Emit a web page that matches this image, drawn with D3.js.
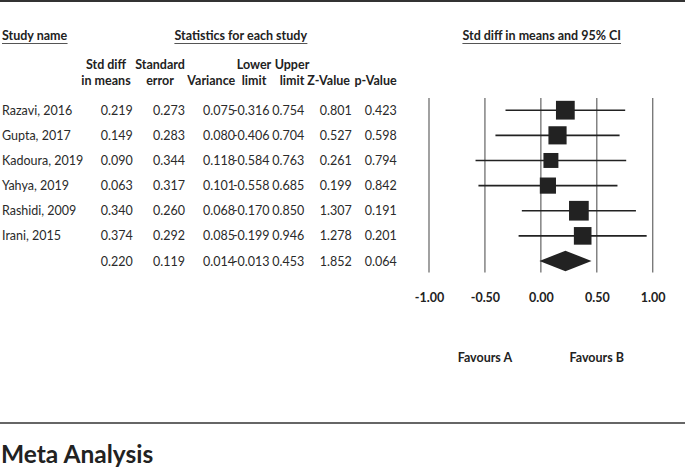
<!DOCTYPE html>
<html>
<head>
<meta charset="utf-8">
<script src="https://cdn.jsdelivr.net/npm/d3@7"></script>
<style>
  body { margin: 0; background: #fff; }
  svg { display: block; font-family: Lato, "Open Sans", sans-serif; }
</style>
</head>
<body>
<div id="chart"></div>
<script>
// study rows
const studies = ["Razavi, 2016", "Gupta, 2017", "Kadoura, 2019", "Yahya, 2019", "Rashidi, 2009", "Irani, 2015"];
const stdDiff = [0.219, 0.149, 0.090, 0.063, 0.340, 0.374];
const stdErr = [0.273, 0.283, 0.344, 0.317, 0.260, 0.292];
const variance = [0.075, 0.080, 0.118, 0.101, 0.068, 0.085];
const lower = [-0.316, -0.406, -0.584, -0.558, -0.170, -0.199];
const upper = [0.754, 0.704, 0.763, 0.685, 0.850, 0.946];
const zValue = [0.801, 0.527, 0.261, 0.199, 1.307, 1.278];
const pValue = [0.423, 0.598, 0.794, 0.842, 0.191, 0.201];

// pooled row
const summary = { stdDiff: 0.220, stdErr: 0.119, variance: 0.014, lower: -0.013, upper: 0.453, zValue: 1.852, pValue: 0.064 };

const axisTicks = [-1, -0.5, 0, 0.5, 1];
const favourLabels = ["Favours A", "Favours B"];

const W = 685, H = 470;
const svg = d3.select("#chart").append("svg")
    .attr("width", W)
    .attr("height", H);

const f3 = d3.format(".3f");
const fmt = d => f3(d).replace("−", "-");
const f2 = d => d3.format(".2f")(d).replace("−", "-");

// scales
const x = d3.scaleLinear().domain([-1, 1]).range([429, 652.7]);
const y = d3.scaleLinear().domain([0, studies.length]).range([110.2, 261]);
const weights = variance.map(v => 1 / v);
const size = d3.scaleSqrt().domain([0, d3.max(weights)]).range([0, 19.7]);

// frame lines
svg.append("line").attr("x1", 0).attr("x2", W).attr("y1", 1).attr("y2", 1)
    .attr("stroke", "#333").attr("stroke-width", 2);
svg.append("line").attr("x1", 0).attr("x2", W).attr("y1", 423).attr("y2", 423)
    .attr("stroke", "#333").attr("stroke-width", 1.6);

// section headers (underlined)
function header(txt, xPos, anchor, yPos) {
    const t = svg.append("text")
        .attr("x", xPos).attr("y", yPos)
        .attr("text-anchor", anchor)
        .attr("font-size", 12.5).attr("font-weight", "bold")
        .attr("fill", "#222")
        .text(txt);
    const b = t.node().getBBox();
    svg.append("line")
        .attr("x1", b.x).attr("x2", b.x + b.width)
        .attr("y1", yPos + 3.5).attr("y2", yPos + 3.5)
        .attr("stroke", "#555").attr("stroke-width", 1);
}
header("Study name", 2, "start", 40);
header("Statistics for each study", 240.7, "middle", 40);
header("Std diff in means and 95% CI", 541.7, "middle", 40);

// column headers and value columns
const columns = [
    { h1: "Std diff", h2: "in means", hx: 106, anchor: "middle", right: 132.7, vals: stdDiff, sum: summary.stdDiff },
    { h1: "Standard", h2: "error", hx: 160, anchor: "middle", right: 185, vals: stdErr, sum: summary.stdErr },
    { h1: "", h2: "Variance", hx: 211.3, anchor: "middle", right: 235, vals: variance, sum: summary.variance },
    { h1: "Lower", h2: "limit", hx: 254, anchor: "middle", right: 269.5, vals: lower, sum: summary.lower },
    { h1: "Upper", h2: "limit", hx: 292, anchor: "middle", right: 304.3, vals: upper, sum: summary.upper },
    { h1: "", h2: "Z-Value", hx: 307.3, anchor: "start", right: 351.7, vals: zValue, sum: summary.zValue },
    { h1: "", h2: "p-Value", hx: 396.7, anchor: "end", right: 396.7, vals: pValue, sum: summary.pValue }
];

columns.forEach(c => {
    if (c.h1) {
        svg.append("text").attr("x", c.hx).attr("y", 69)
            .attr("text-anchor", c.anchor).attr("font-size", 12.5).attr("font-weight", "bold")
            .attr("fill", "#222").text(c.h1);
    }
    svg.append("text").attr("x", c.hx).attr("y", 85)
        .attr("text-anchor", c.anchor).attr("font-size", 12.5).attr("font-weight", "bold")
        .attr("fill", "#222").text(c.h2);

    svg.append("g").selectAll("text")
        .data(c.vals.concat([c.sum]))
        .join("text")
        .attr("x", c.right)
        .attr("y", (d, i) => y(i) + 4.5)
        .attr("text-anchor", "end")
        .attr("font-size", 12.5)
        .attr("fill", "#2a2a2a")
        .text(d => fmt(d));
});

// study names
svg.append("g").selectAll("text")
    .data(studies)
    .join("text")
    .attr("x", 2)
    .attr("y", (d, i) => y(i) + 4.5)
    .attr("font-size", 12.5)
    .attr("fill", "#2a2a2a")
    .text(d => d);

// vertical reference lines
svg.append("g").selectAll("line")
    .data(axisTicks)
    .join("line")
    .attr("x1", d => x(d)).attr("x2", d => x(d))
    .attr("y1", 98).attr("y2", 272.5)
    .attr("stroke", "#7a7a7a").attr("stroke-width", 1.4);

// axis labels
const axis = svg.append("g")
    .attr("transform", "translate(0,293)")
    .call(d3.axisBottom(x).tickValues(axisTicks).tickFormat(f2).tickSize(0).tickPadding(0));
axis.select(".domain").remove();
axis.selectAll("text")
    .attr("font-family", "Lato, 'Open Sans', sans-serif")
    .attr("font-size", 12.5)
    .attr("font-weight", "bold")
    .attr("fill", "#222");

// CI lines
const rows = svg.append("g");
rows.selectAll("line")
    .data(studies)
    .join("line")
    .attr("x1", (d, i) => x(lower[i]))
    .attr("x2", (d, i) => x(upper[i]))
    .attr("y1", (d, i) => y(i)).attr("y2", (d, i) => y(i))
    .attr("stroke", "#222").attr("stroke-width", 1.6);

// weighted squares
rows.selectAll("rect")
    .data(studies)
    .join("rect")
    .attr("x", (d, i) => x(stdDiff[i]) - size(weights[i]) / 2)
    .attr("y", (d, i) => y(i) - size(weights[i]) / 2)
    .attr("width", (d, i) => size(weights[i]))
    .attr("height", (d, i) => size(weights[i]))
    .attr("fill", "#222");

// pooled diamond
const yc = y(studies.length);
svg.append("path")
    .attr("d", `M${x(summary.lower)},${yc} L${x(summary.stdDiff)},${yc - 10.3} L${x(summary.upper)},${yc} L${x(summary.stdDiff)},${yc + 10.3} Z`)
    .attr("fill", "#222");

// favours labels
svg.append("g").selectAll("text")
    .data(favourLabels)
    .join("text")
    .attr("x", (d, i) => x(axisTicks[i * 2 + 1]))
    .attr("y", 361.7)
    .attr("text-anchor", "middle")
    .attr("font-size", 12.5)
    .attr("font-weight", "bold")
    .attr("fill", "#222")
    .text(d => d);

// title below the frame
svg.append("text")
    .attr("x", 1)
    .attr("y", 463)
    .attr("font-size", 24.5)
    .attr("font-weight", "bold")
    .attr("fill", "#222")
    .text("Meta Analysis");
</script>
</body>
</html>
